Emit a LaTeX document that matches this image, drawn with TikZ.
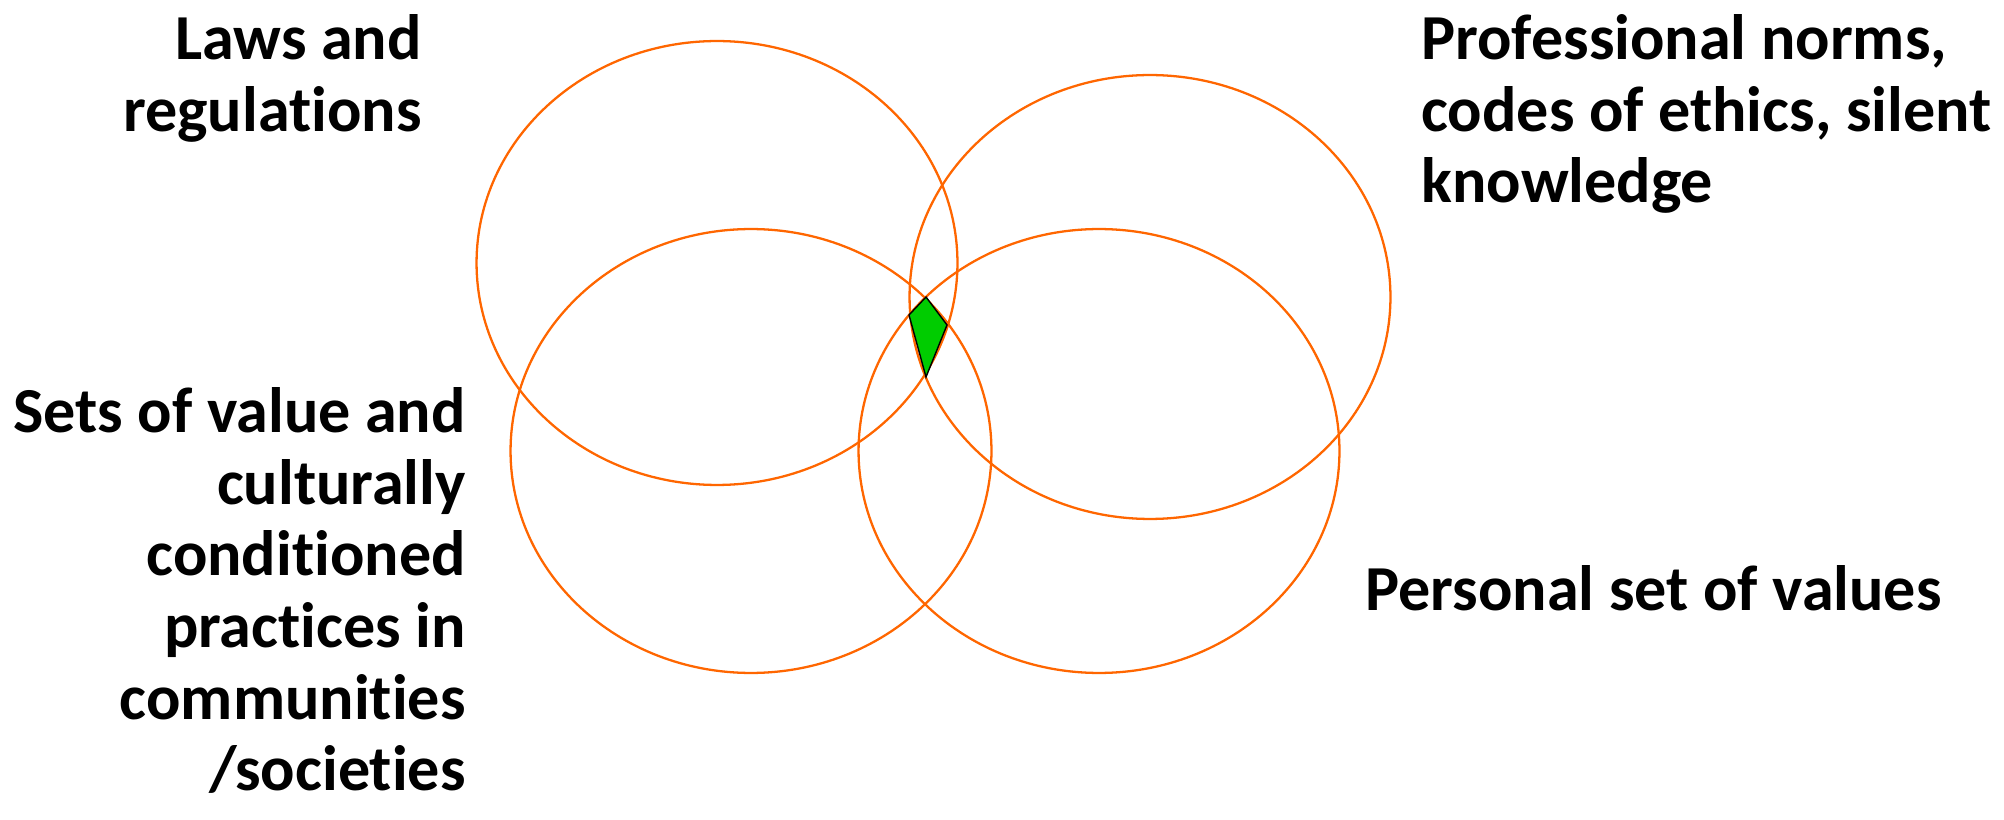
\documentclass[tikz,border=0pt]{standalone}
\usepackage{fontspec}
\setmainfont{Carlito}[Ligatures=NoCommon]
\usetikzlibrary{shapes.geometric}
\definecolor{ringorange}{RGB}{255,102,0}
\definecolor{kitegreen}{RGB}{0,204,0}
\begin{document}
\begin{tikzpicture}[x=0.02cm,y=-0.02cm,
  ring/.style={draw=ringorange,line width=1.3pt,ellipse,inner sep=0pt,outer sep=0pt,
    minimum width=9.62cm,minimum height=8.88cm},
  lbl/.style={font=\fontsize{36.5}{40.8}\selectfont\bfseries,inner sep=0pt}]
\useasboundingbox (0,0) rectangle (2004,820);
\node[ring] (law) at (717,263) {};
\node[ring] (prof) at (1150,297) {};
\node[ring] (cult) at (751,451) {};
\node[ring] (pers) at (1099,451) {};
\coordinate (kt) at (926,297);
\coordinate (kl) at (909,315);
\coordinate (kr) at (947,325);
\coordinate (kb) at (926,377);
\draw[fill=kitegreen,line width=0.8pt] (kt) -- (kr) -- (kb) -- (kl) -- cycle;
\node[lbl,align=right,anchor=north east] (lawtxt) at (422,14) {Laws and\\regulations};
\node[lbl,align=left,anchor=north west] (proftxt) at (1421,14) {Professional norms,\\codes of ethics, silent\\knowledge};
\node[lbl,align=right,anchor=north east] (culttxt) at (466,387) {Sets of value and\\culturally\\conditioned\\practices in\\communities\\/societies};
\node[lbl,anchor=base west] (perstxt) at (1365,610) {Personal set of values};
\end{tikzpicture}
\end{document}
